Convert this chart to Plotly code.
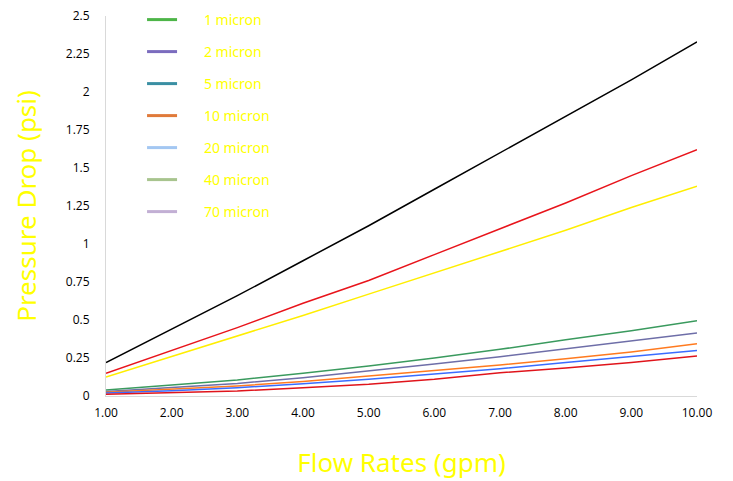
import plotly.graph_objects as go

flow = [1, 2, 3, 4, 5, 6, 7, 8, 9, 10]

black_line = [0.22, 0.44, 0.66, 0.89, 1.12, 1.36, 1.60, 1.84, 2.08, 2.33]
red_high = [0.15, 0.30, 0.45, 0.61, 0.76, 0.93, 1.10, 1.27, 1.45, 1.62]
yellow_line = [0.125, 0.26, 0.39, 0.53, 0.67, 0.81, 0.95, 1.09, 1.24, 1.38]
green_line = [0.039, 0.07, 0.105, 0.15, 0.197, 0.25, 0.307, 0.37, 0.43, 0.495]
purple_line = [0.03, 0.055, 0.083, 0.12, 0.164, 0.21, 0.259, 0.31, 0.36, 0.414]
orange_line = [0.025, 0.045, 0.066, 0.095, 0.13, 0.165, 0.204, 0.245, 0.29, 0.344]
blue_line = [0.02, 0.035, 0.055, 0.08, 0.11, 0.143, 0.18, 0.22, 0.26, 0.30]
red_low = [0.011, 0.02, 0.033, 0.055, 0.077, 0.11, 0.153, 0.185, 0.22, 0.263]

line_series = [black_line, red_high, yellow_line, green_line, purple_line,
               orange_line, blue_line, red_low]
line_colors = ["#000000", "#E8141B", "#FFEE00", "#3A9A5E", "#6E6EA8",
               "#FF7A1F", "#3A6CFF", "#E0141B"]

legend_names = ["1 micron", "2 micron", "5 micron", "10 micron",
                "20 micron", "40 micron", "70 micron"]
legend_colors = ["#4DB548", "#7B6CBE", "#3A8FA3", "#E07A3A",
                 "#A3C7F2", "#A8C48E", "#C2AFD4"]

y_tickvals = [0, 0.25, 0.5, 0.75, 1, 1.25, 1.5, 1.75, 2, 2.25, 2.5]
y_ticktext = ["0", "0.25", "0.5", "0.75", "1", "1.25", "1.5", "1.75", "2", "2.25", "2.5"]

fig = go.Figure()

for ys, c in zip(line_series, line_colors):
    fig.add_trace(go.Scatter(x=flow, y=ys, mode="lines",
                             line=dict(color=c, width=1.5),
                             showlegend=False, hoverinfo="skip"))

plot_h = 380.0
legend_layouts = {}
for i, (n, c) in enumerate(zip(legend_names, legend_colors)):
    key = "legend" if i == 0 else "legend%d" % (i + 1)
    fig.add_trace(go.Scatter(x=[None], y=[None], mode="lines",
                             name="\u00a0" * 6 + n,
                             legend=key,
                             line=dict(color=c, width=3)))
    yc = (376.0 - 32.0 * i) / plot_h
    legend_layouts[key] = dict(x=0.061, y=yc, xanchor="left", yanchor="middle",
                               bgcolor="rgba(0,0,0,0)",
                               font=dict(family="Noto Sans", size=14, color="#FFFF00"),
                               itemwidth=30)

fig.update_layout(
    width=725, height=473,
    margin=dict(l=98, r=36, t=8, b=85, autoexpand=False),
    paper_bgcolor="white", plot_bgcolor="white",
    font=dict(family="Open Sans", size=12, color="#000000"),
    xaxis=dict(range=[1, 10], tickvals=flow, tickformat=".2f",
               showgrid=False, zeroline=False, ticklabeloverflow="allow",
               showline=True, linecolor="#D9D9D9", linewidth=1,
               ticks="outside", ticklen=6, tickcolor="rgba(0,0,0,0)",
               tickfont=dict(family="Open Sans", size=12, color="#000000"),
               title=dict(text="Flow Rates (gpm)", standoff=33,
                          font=dict(family="Noto Sans", size=26, color="#FFFF00"))),
    yaxis=dict(range=[0, 2.5], tickvals=y_tickvals, ticktext=y_ticktext,
               showgrid=False, zeroline=False, ticklabeloverflow="allow",
               showline=True, linecolor="#D9D9D9", linewidth=1,
               ticks="outside", ticklen=13, tickcolor="rgba(0,0,0,0)",
               tickfont=dict(family="Open Sans", size=12, color="#000000"),
               title=dict(text="Pressure Drop (psi)", standoff=40,
                          font=dict(family="Noto Sans", size=26, color="#FFFF00"))),
)
fig.update_layout(**legend_layouts)

fig.write_html("out.html")
